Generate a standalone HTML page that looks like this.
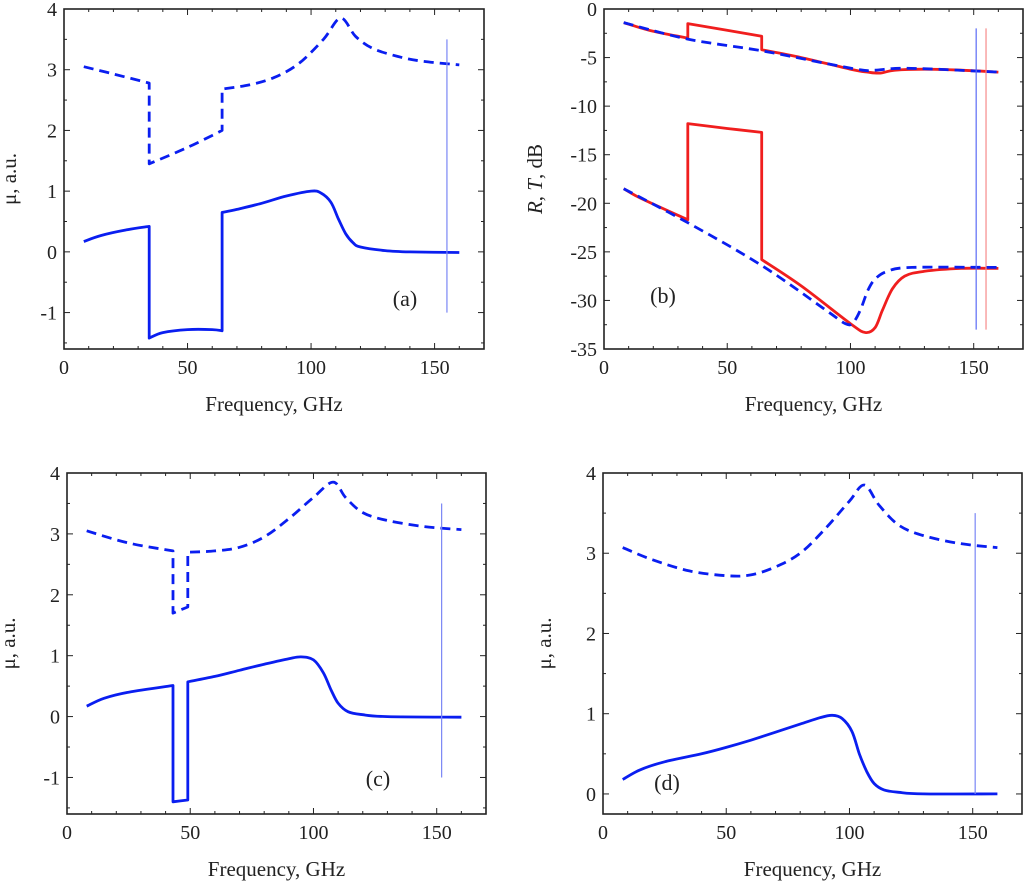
<!DOCTYPE html>
<html><head><meta charset="utf-8"><style>
body{margin:0;background:#fff;}
svg{display:block;font-family:"Liberation Serif",serif;}
</style></head><body>
<svg id="fig" width="1024" height="881" viewBox="0 0 1024 881"></svg>
<script>
// Panel (a)
const aSolidX=[8,15,25,34.5,34.5,40,50,60,64,64,70,80,90,100,104,108,111,114,117,120,130,140,160];
const aSolidY=[0.17,0.27,0.36,0.42,-1.42,-1.33,-1.28,-1.28,-1.3,0.65,0.7,0.8,0.92,1.0,0.97,0.82,0.55,0.3,0.15,0.08,0.02,0,-0.01];
const aDashX=[8,20,34.5,34.5,50,64,64,75,85,95,105,112,118,125,135,145,160];
const aDashY=[3.05,2.93,2.78,1.45,1.72,2.0,2.68,2.75,2.87,3.1,3.5,3.85,3.55,3.35,3.22,3.14,3.08];
// Panel (b)
const bRtopX=[8,20,34,34,64,64,80,100,107,112,118,130,145,160];
const bRtopY=[-1.4,-2.3,-3,-1.5,-2.8,-4.2,-5,-6.2,-6.5,-6.6,-6.3,-6.2,-6.3,-6.5];
const bBtopX=[8,34,64,90,105,110,120,135,160];
const bBtopY=[-1.4,-3.1,-4.3,-5.6,-6.3,-6.3,-6.1,-6.2,-6.5];
const bRbotX=[8,15,34,34,50,64,64,80,100,106,110,113,117,122,130,145,160];
const bRbotY=[-18.5,-19.5,-21.7,-11.8,-12.3,-12.7,-25.8,-28.5,-32.4,-33.3,-32.8,-31,-28.8,-27.5,-27,-26.7,-26.7];
const bBbotX=[8,34,64,90,98,101,104,107,110,115,125,160];
const bBbotY=[-18.5,-22,-26.4,-31,-32.4,-32.3,-31,-29,-27.8,-27,-26.6,-26.6];
// Panel (c)
const cSolidX=[8,15,25,43,43,49,49,60,70,80,90,95,100,104,107,110,114,120,130,160];
const cSolidY=[0.17,0.3,0.4,0.51,-1.4,-1.37,0.57,0.66,0.76,0.86,0.95,0.98,0.93,0.72,0.45,0.22,0.08,0.03,0,-0.01];
const cDashX=[8,25,43,43,49,49,60,70,80,90,100,108,113,120,130,145,160];
const cDashY=[3.05,2.85,2.72,1.7,1.8,2.7,2.72,2.78,2.95,3.25,3.6,3.85,3.6,3.35,3.22,3.12,3.07];
// Panel (d)
const dSolidX=[8,15,25,40,50,60,70,80,88,93,97,101,104,107,110,114,120,130,160];
const dSolidY=[0.18,0.3,0.4,0.5,0.58,0.67,0.77,0.87,0.95,0.98,0.94,0.78,0.5,0.28,0.13,0.05,0.02,0,0];
const dDashX=[8,20,35,50,60,70,80,90,100,106,112,120,130,145,160];
const dDashY=[3.07,2.92,2.78,2.72,2.73,2.83,3.0,3.3,3.65,3.85,3.6,3.35,3.22,3.12,3.07];
const xTicks=[0,50,100,150];
const muTicks=[4,3,2,1,0,-1];
const muTicksD=[4,3,2,1,0];
const dbTicks=[0,-5,-10,-15,-20,-25,-30,-35];

const NS='http://www.w3.org/2000/svg';
const svg=document.getElementById('fig');
function mk(tag,attrs,parent){const e=document.createElementNS(NS,tag);for(const k in attrs)e.setAttribute(k,attrs[k]);(parent||svg).appendChild(e);return e;}

function panel(p){
  const g=mk('g',{});
  
  
  const sx=v=>p.L+v/170*(p.R-p.L);
  const sy=v=>p.T+(p.ymax-v)/(p.ymax-p.ymin)*(p.B-p.T);
  p.sx=sx;p.sy=sy;
  const box=mk('rect',{x:p.L,y:p.T,width:p.R-p.L,height:p.B-p.T,fill:'none',stroke:'#222','stroke-width':1.6},g);
  
  
  for(let v=0;v<=170;v+=10){
    const maj=v%50===0,len=maj?6:3,x=sx(v);
    mk('line',{x1:x,x2:x,y1:p.B,y2:p.B-len,stroke:'#222','stroke-width':1},g);
    mk('line',{x1:x,x2:x,y1:p.T,y2:p.T+len,stroke:'#222','stroke-width':1},g);
  }
  xTicks.forEach(v=>{
    const t=mk('text',{x:sx(v),y:p.B+25,'font-size':20,'text-anchor':'middle',fill:'#222'},g);
    t.textContent=v;
    
    
  });
  const step=p.minor;
  for(let v=Math.ceil(p.ymin/step)*step;v<=p.ymax+1e-9;v+=step){
    const maj=Math.abs(v/p.major-Math.round(v/p.major))<1e-6,len=maj?6:3,y=sy(v);
    mk('line',{x1:p.L,x2:p.L+len,y1:y,y2:y,stroke:'#222','stroke-width':1},g);
    mk('line',{x1:p.R,x2:p.R-len,y1:y,y2:y,stroke:'#222','stroke-width':1},g);
  }
  p.yTicks.forEach(v=>{
    const t=mk('text',{x:p.L-7,y:sy(v)+7,'font-size':20,'text-anchor':'end',fill:'#222'},g);
    t.textContent=v;
    
    
  });
  const xt=mk('text',{x:(p.L+p.R)/2,y:p.B+62,'font-size':21,'text-anchor':'middle',fill:'#222'},g);
  xt.textContent='Frequency, GHz';
  
  
  const yx=p.L-p.ytoff,yy=(p.T+p.B)/2;
  const yt=mk('text',{x:yx,y:yy,'font-size':21,'text-anchor':'middle',fill:'#222',transform:`rotate(-90 ${yx} ${yy})`},g);
  yt.innerHTML=p.ytitle;
  
  
  const pl=mk('text',{x:p.lab[0],y:p.lab[1],'font-size':22,'text-anchor':'middle',fill:'#222'},g);
  pl.textContent=p.label;
  
  
  p.g=g;
  return p;
}
function smooth(pts){
  let d='';
  for(let i=0;i<pts.length-1;i++){
    const p0=pts[Math.max(0,i-1)],p1=pts[i],p2=pts[i+1],p3=pts[Math.min(pts.length-1,i+2)];
    const c1=[p1[0]+(p2[0]-p0[0])/6,p1[1]+(p2[1]-p0[1])/6];
    const c2=[p2[0]-(p3[0]-p1[0])/6,p2[1]-(p3[1]-p1[1])/6];
    d+=` C${c1[0].toFixed(1)},${c1[1].toFixed(1)} ${c2[0].toFixed(1)},${c2[1].toFixed(1)} ${p2[0].toFixed(1)},${p2[1].toFixed(1)}`;
  }
  return d;
}
function series(p,xs,ys,color,dash,name){
  const pts=xs.map((x,i)=>[p.sx(x),p.sy(ys[i])]);
  // split at vertical jumps
  const segs=[];let cur=[pts[0]];
  for(let i=1;i<pts.length;i++){
    if(xs[i]===xs[i-1]){segs.push(cur);cur=[pts[i]];}
    else cur.push(pts[i]);
  }
  segs.push(cur);
  let d='M'+pts[0][0].toFixed(1)+','+pts[0][1].toFixed(1);
  segs.forEach((s,k)=>{
    if(k>0)d+=' L'+s[0][0].toFixed(1)+','+s[0][1].toFixed(1);
    d+=smooth(s);
  });
  const path=mk('path',{d:d,fill:'none',stroke:color,'stroke-width':2.8,'stroke-dasharray':dash?'10,6':'none','stroke-linejoin':'round'},p.g);
  
  
}
function vline(p,x,y1,y2,color,name){
  const l=mk('line',{x1:p.sx(x),x2:p.sx(x),y1:p.sy(y1),y2:p.sy(y2),stroke:color,'stroke-width':1.2},p.g);
  
  
}
const BLUE='#0a1ef0',RED='#f01e1e';
const pa=panel({name:'panel-a',L:64,R:484,T:9,B:349,ymin:-1.6,ymax:4,major:1,minor:0.5,yTicks:muTicks,ytoff:48,ytitle:'μ, a.u.',label:'(a)',lab:[405,306]});
series(pa,aDashX,aDashY,BLUE,true,'mu-prime-dashed');
series(pa,aSolidX,aSolidY,BLUE,false,'mu-double-prime-solid');
vline(pa,155,3.5,-1,'#7a86f5','marker-line');

const pb=panel({name:'panel-b',L:604,R:1023,T:9,B:349,ymin:-35,ymax:0,major:5,minor:2.5,yTicks:dbTicks,ytoff:62,ytitle:'<tspan font-style="italic">R</tspan>, <tspan font-style="italic">T</tspan>, dB',label:'(b)',lab:[663,303]});
series(pb,bRtopX,bRtopY,RED,false,'transmission-red');
series(pb,bBtopX,bBtopY,BLUE,true,'transmission-blue-dashed');
series(pb,bRbotX,bRbotY,RED,false,'reflection-red');
series(pb,bBbotX,bBbotY,BLUE,true,'reflection-blue-dashed');
vline(pb,151,-2,-33,'#5a6af5','marker-line-blue');
vline(pb,155,-2,-33,'#f58a8a','marker-line-red');

const pc=panel({name:'panel-c',L:67,R:486,T:473,B:814,ymin:-1.6,ymax:4,major:1,minor:0.5,yTicks:muTicks,ytoff:52,ytitle:'μ, a.u.',label:'(c)',lab:[378,786]});
series(pc,cDashX,cDashY,BLUE,true,'mu-prime-dashed');
series(pc,cSolidX,cSolidY,BLUE,false,'mu-double-prime-solid');
vline(pc,152,3.5,-1,'#7a86f5','marker-line');

const pd=panel({name:'panel-d',L:603,R:1022,T:473,B:814,ymin:-0.25,ymax:4,major:1,minor:0.5,yTicks:muTicksD,ytoff:52,ytitle:'μ, a.u.',label:'(d)',lab:[667,790]});
series(pd,dDashX,dDashY,BLUE,true,'mu-prime-dashed');
series(pd,dSolidX,dSolidY,BLUE,false,'mu-double-prime-solid');
vline(pd,151,3.5,0,'#7a86f5','marker-line');
</script>
</body></html>
